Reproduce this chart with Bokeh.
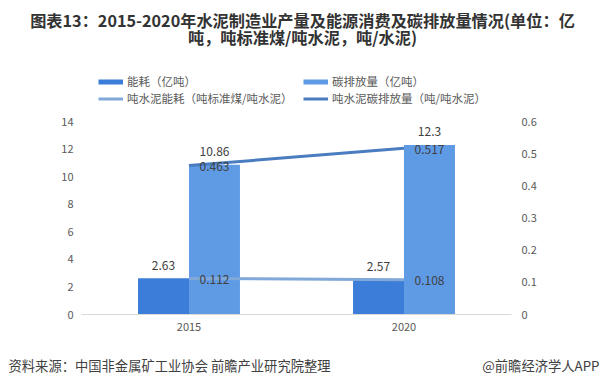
from bokeh.plotting import figure
from bokeh.models import (ColumnDataSource, FactorRange, Range1d, LinearAxis, FixedTicker,
                          Legend, LegendItem)
from bokeh.layouts import column
from bokeh.transform import dodge
from bokeh.core.properties import value
from bokeh.embed import file_html
from bokeh.resources import INLINE

# ---------------- data ----------------
years = ["2015", "2020"]
energy = [2.63, 2.57]            # 能耗（亿吨）
carbon = [10.86, 12.3]           # 碳排放量（亿吨）
energy_per_t = [0.112, 0.108]    # 吨水泥能耗（吨标准煤/吨水泥）
carbon_per_t = [0.463, 0.517]    # 吨水泥碳排放量（吨/吨水泥）
left_ticks = [0, 2, 4, 6, 8, 10, 12, 14]
right_ticks = [0, 0.1, 0.2, 0.3, 0.4, 0.5, 0.6]
series_names = ["能耗（亿吨）", "碳排放量（亿吨）",
                "吨水泥能耗（吨标准煤/吨水泥）", "吨水泥碳排放量（吨/吨水泥）"]
title_lines = ["图表13：2015-2020年水泥制造业产量及能源消费及碳排放量情况(单位：亿",
               "吨，吨标准煤/吨水泥，吨/水泥)"]
source_text = "资料来源：中国非金属矿工业协会 前瞻产业研究院整理"
brand_text = "@前瞻经济学人APP"

FONT = "Noto Sans CJK SC"
C_DARK = "#3b7dd8"
C_LIGHT = "#5f9be5"
C_LINE1 = "#80a8d8"
C_LINE2 = "#4a7cc0"

W = 601
HEAD_H, FOOT_H = 113, 46
FW, FH = 430, 193
BL, BR, BT, BB = 81, 90, 8, 26


def blank(h):
    f = figure(width=W, height=h, x_range=Range1d(0, W), y_range=Range1d(h, 0),
               x_axis_location=None, y_axis_location=None,
               min_border=0, output_backend="svg", toolbar_location=None,
               background_fill_color="white", border_fill_color="white",
               outline_line_color=None, frame_align=False)
    f.grid.visible = False
    return f


# ---------------- header: title + legend ----------------
head = blank(HEAD_H)
head.text(x=[302, 302], y=[19.5, 36], text=title_lines, text_align="center",
          text_baseline="middle", text_font=value(FONT), text_font_size="16.2px",
          text_font_style="bold", text_color="#333333")

# swatch-only renderers (NaN data: nothing drawn in the plot area)
nan_src = ColumnDataSource(dict(x=[float("nan")], y=[float("nan")]))
s1 = head.line(x="x", y="y", source=nan_src, line_color=C_DARK, line_width=5)
s2 = head.line(x="x", y="y", source=nan_src, line_color=C_LIGHT, line_width=5)
s3 = head.line(x="x", y="y", source=nan_src, line_color=C_LINE1, line_width=3)
s4 = head.line(x="x", y="y", source=nan_src, line_color=C_LINE2, line_width=3)
legend = Legend(items=[LegendItem(label=series_names[0], renderers=[s1]),
                       LegendItem(label=series_names[1], renderers=[s2]),
                       LegendItem(label=series_names[2], renderers=[s3]),
                       LegendItem(label=series_names[3], renderers=[s4])],
                location=(98, 6.5), orientation="horizontal", ncols=2,
                padding=0, margin=0, spacing=0,
                border_line_color=None, background_fill_alpha=0,
                glyph_width=25, glyph_height=17, label_height=17, label_width=176,
                label_standoff=4, label_text_font=FONT, label_text_font_size="11.5px",
                label_text_color="#595959")
head.add_layout(legend)

# ---------------- main chart ----------------
src = ColumnDataSource(dict(
    year=years, energy=energy, carbon=carbon, ept=energy_per_t, cpt=carbon_per_t,
    energy_lbl=[str(v) for v in energy], carbon_lbl=[str(v) for v in carbon],
    ept_lbl=[str(v) for v in energy_per_t], cpt_lbl=[str(v) for v in carbon_per_t],
))

p = figure(x_range=FactorRange(*years), y_range=Range1d(0, 14),
           frame_width=FW, frame_height=FH,
           min_border_left=BL, min_border_right=BR, min_border_top=BT, min_border_bottom=BB,
           output_backend="svg", toolbar_location=None, frame_align=False,
           background_fill_color="white", border_fill_color="white", outline_line_color=None)
p.extra_y_ranges = {"right": Range1d(0, 0.6)}
p.xgrid.visible = False
p.ygrid.visible = False

ya = p.yaxis[0]
ya.ticker = FixedTicker(ticks=left_ticks)
ra = LinearAxis(y_range_name="right", ticker=FixedTicker(ticks=right_ticks))
ra.major_label_overrides = {0: "0"}
p.add_layout(ra, "right")
for ax, so in ((ya, 8), (ra, 10)):
    ax.axis_line_color = None
    ax.major_label_standoff = so

xa = p.xaxis[0]
xa.axis_line_color = "#d9d9d9"
xa.major_label_standoff = 8

for ax in (ya, ra, xa):
    ax.major_tick_line_color = None
    ax.minor_tick_line_color = None
    ax.major_tick_out = 0
    ax.major_tick_in = 0
    ax.minor_tick_out = 0
    ax.major_label_text_font = FONT
    ax.major_label_text_font_size = "11px"
    ax.major_label_text_color = "#595959"

BW = 0.237
OFF = 0.1185
p.vbar(x=dodge("year", -OFF, range=p.x_range), top="energy", width=BW, source=src,
       fill_color=C_DARK, line_color=None)
p.vbar(x=dodge("year", OFF, range=p.x_range), top="carbon", width=BW, source=src,
       fill_color=C_LIGHT, line_color=None)

p.line(x="year", y="ept", y_range_name="right", source=src, line_color=C_LINE1, line_width=3)
p.line(x="year", y="cpt", y_range_name="right", source=src, line_color=C_LINE2, line_width=3)

common = dict(text_align="center", text_baseline="middle", text_font=value(FONT),
              text_font_size="12px", text_color="#404040", source=src)
p.text(x=dodge("year", -OFF, range=p.x_range), y="energy", text="energy_lbl", y_offset=-13, **common)
p.text(x=dodge("year", OFF, range=p.x_range), y="carbon", text="carbon_lbl", y_offset=-13, **common)
p.text(x=dodge("year", OFF, range=p.x_range), y="ept", text="ept_lbl", y_range_name="right",
       y_offset=1, **common)
p.text(x=dodge("year", OFF, range=p.x_range), y="cpt", text="cpt_lbl", y_range_name="right",
       y_offset=1, **common)

# ---------------- footer ----------------
foot = blank(FOOT_H)
foot.text(x=[8], y=[25], text=[source_text], text_align="left", text_baseline="middle",
          text_font=value(FONT), text_font_size="13.3px", text_color="#404040")
foot.text(x=[599], y=[25], text=[brand_text], text_align="right", text_baseline="middle",
          text_font=value(FONT), text_font_size="13.3px", text_color="#404040")

layout = column(head, p, foot, spacing=0)
open("out.html", "w").write(file_html(layout, INLINE))
